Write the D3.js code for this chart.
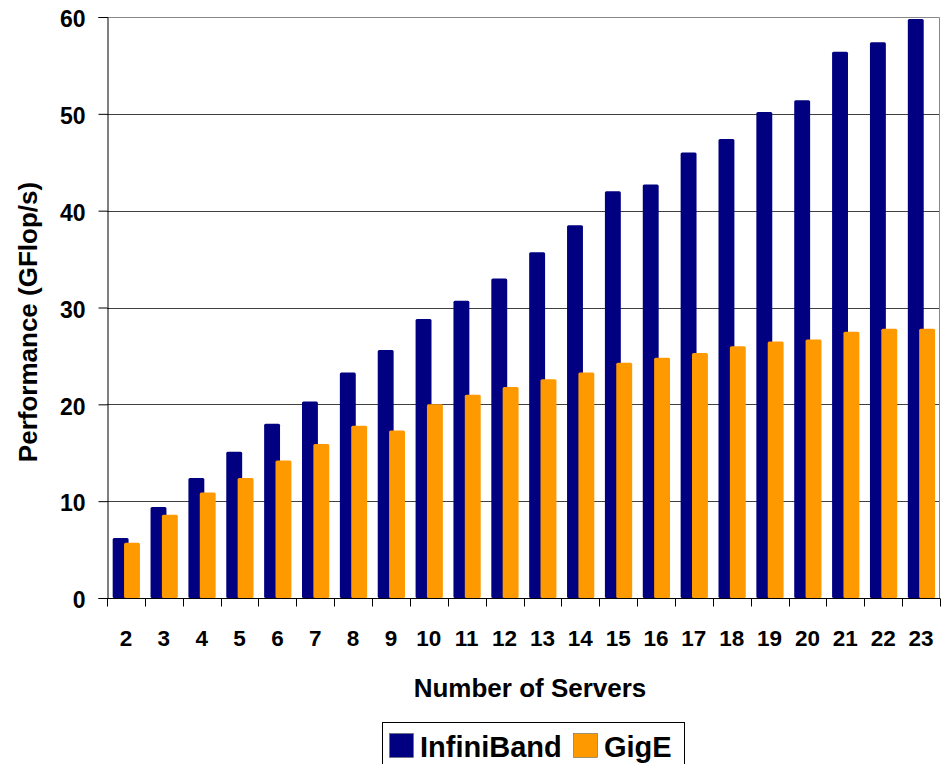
<!DOCTYPE html>
<html>
<head>
<meta charset="utf-8">
<script src="https://cdn.jsdelivr.net/npm/d3@7"></script>
<style>
  body { margin: 0; background: #fff; }
  svg text { font-family: "Liberation Sans", Arial, sans-serif; font-weight: bold; fill: #000; }
</style>
</head>
<body>
<div id="chart"></div>
<script>
// data
var servers = ["2","3","4","5","6","7","8","9","10","11","12","13","14","15","16","17","18","19","20","21","22","23"];
var infiniband = [6.2, 9.4, 12.4, 15.1, 18.0, 20.3, 23.3, 25.6, 28.8, 30.7, 33.0, 35.7, 38.5, 42.0, 42.7, 46.0, 47.4, 50.2, 51.4, 56.4, 57.4, 59.8];
var gige = [5.7, 8.6, 10.9, 12.4, 14.2, 15.9, 17.8, 17.3, 20.0, 21.0, 21.8, 22.6, 23.3, 24.3, 24.8, 25.3, 26.0, 26.5, 26.7, 27.5, 27.8, 27.8];
var yTicks = [0, 10, 20, 30, 40, 50, 60];
var seriesNames = ["InfiniBand", "GigE"];
var seriesColors = ["#000080", "#FF9900"];

var containerwidth = 941, containerheight = 764;
var margin = { top: 17, right: 1, bottom: 166, left: 107 };
var width = containerwidth - margin.left - margin.right;
var height = containerheight - margin.top - margin.bottom;

var svg = d3.select("#chart").append("svg")
  .attr("width", containerwidth)
  .attr("height", containerheight);
var g = svg.append("g")
  .attr("transform", "translate(" + margin.left + "," + margin.top + ")");

// scales
var x0Scale = d3.scaleBand().domain(servers).range([0, width]).padding(0);
var offsetScale = d3.scalePoint().domain(seriesNames).range([0.15, 0.45]);
var barFrac = 0.42;
var yScale = d3.scaleLinear().domain([0, 60]).range([height, 0]);

// gridlines
g.append("g").selectAll("line")
  .data(yTicks.filter(function(d) { return d > 0 && d < 60; }))
  .enter().append("line")
  .attr("x1", 0).attr("x2", width)
  .attr("y1", function(d) { return Math.round(yScale(d)) + 0.5; })
  .attr("y2", function(d) { return Math.round(yScale(d)) + 0.5; })
  .attr("stroke", "#404040");

// plot border top/right
g.append("path")
  .attr("d", "M0," + (Math.round(yScale(60)) + 0.5) + "H" + (width - 0.5) + "V" + height)
  .attr("fill", "none")
  .attr("stroke", "#888");

// bars - flatten data
var flat = [];
servers.forEach(function(s, i) {
  flat.push({ key: seriesNames[0], x: s, y: infiniband[i], color: seriesColors[0] });
  flat.push({ key: seriesNames[1], x: s, y: gige[i], color: seriesColors[1] });
});
g.append("g").selectAll("rect")
  .data(flat)
  .enter().append("rect")
  .attr("x", function(d) { return x0Scale(d.x) + offsetScale(d.key) * x0Scale.bandwidth(); })
  .attr("y", function(d) { return yScale(d.y); })
  .attr("width", x0Scale.bandwidth() * barFrac)
  .attr("height", function(d) { return height - yScale(d.y); })
  .attr("rx", 1.5)
  .attr("fill", function(d) { return d.color; });

// y axis
var yAxis = d3.axisLeft(yScale).tickValues(yTicks).tickSize(9).tickPadding(13);
var yAxisG = g.append("g").attr("transform", "translate(0.5,0)").call(yAxis);
yAxisG.select(".domain").attr("stroke", "#000");
yAxisG.selectAll(".tick line").attr("stroke", "#000");
yAxisG.selectAll(".tick text")
  .attr("font-size", 23)
  .attr("dy", "0.42em")
  .style("font-family", "'Liberation Sans', Arial, sans-serif");

// x axis: ticks at category boundaries
var xAxisG = g.append("g").attr("transform", "translate(0," + (height + 0.5) + ")");
xAxisG.append("line").attr("x1", 0).attr("x2", width).attr("stroke", "#000");
var bounds = servers.map(function(s) { return x0Scale(s); }).concat([width]);
xAxisG.selectAll("line.tk")
  .data(bounds)
  .enter().append("line")
  .attr("class", "tk")
  .attr("x1", function(d) { return Math.round(d) + 0.5; })
  .attr("x2", function(d) { return Math.round(d) + 0.5; })
  .attr("y1", 0).attr("y2", 8)
  .attr("stroke", "#000");
xAxisG.selectAll("text")
  .data(servers)
  .enter().append("text")
  .attr("x", function(d) { return x0Scale(d) + x0Scale.bandwidth() / 2; })
  .attr("y", 47)
  .attr("text-anchor", "middle")
  .attr("font-size", 22.5)
  .text(function(d) { return d; });

// axis titles
svg.append("text")
  .attr("x", 530)
  .attr("y", 697)
  .attr("text-anchor", "middle")
  .attr("font-size", 26)
  .text("Number of Servers");
svg.append("text")
  .attr("transform", "translate(37,322) rotate(-90)")
  .attr("text-anchor", "middle")
  .attr("font-size", 26)
  .text("Performance (GFlop/s)");

// legend
var legendG = svg.append("g").attr("transform", "translate(382,722)");
legendG.append("rect")
  .attr("x", 0.5).attr("y", 0.5)
  .attr("width", 302).attr("height", 60)
  .attr("fill", "#fff")
  .attr("stroke", "#000");
var legendX = [7, 191];
var legendItem = legendG.selectAll("g.item")
  .data(seriesNames)
  .enter().append("g")
  .attr("class", "item")
  .attr("transform", function(d, i) { return "translate(" + legendX[i] + ",0)"; });
legendItem.append("rect")
  .attr("x", 0.5).attr("y", 11.5)
  .attr("width", 24).attr("height", 24)
  .attr("fill", function(d, i) { return seriesColors[i]; })
  .attr("stroke", "#666")
  .attr("stroke-width", 0.6);
legendItem.append("text")
  .attr("x", 31)
  .attr("y", 35)
  .attr("font-size", 29)
  .text(function(d) { return d; });
</script>
</body>
</html>
